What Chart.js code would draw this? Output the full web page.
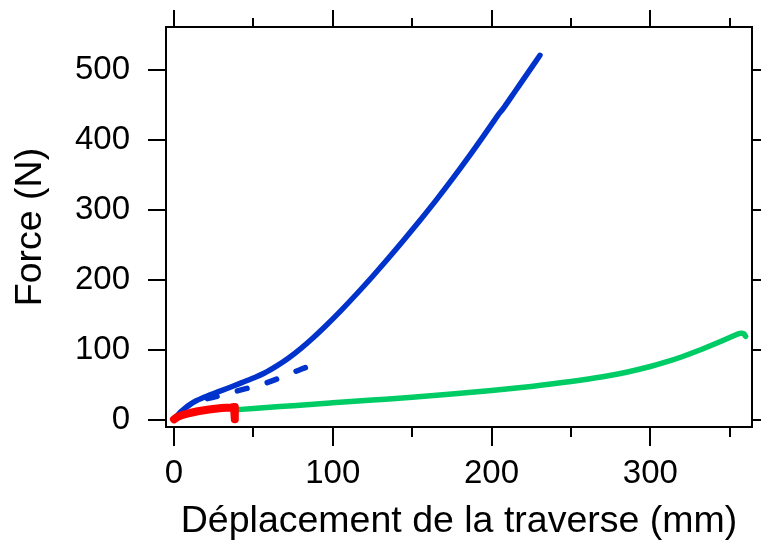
<!DOCTYPE html>
<html><head><meta charset="utf-8">
<script src="https://cdn.jsdelivr.net/npm/chart.js@4/dist/chart.umd.min.js"></script>
<style>html,body{margin:0;padding:0;background:#fff}</style>
</head><body>
<canvas id="c" width="761" height="544" style="width:761px;height:544px;display:block"></canvas>
<script>
// Tick values
const xMajorTicks = [0, 100, 200, 300];
const xMinorTicks = [50, 150, 250, 350];
const yMajorTicks = [0, 100, 200, 300, 400, 500];

// Blue solid series
const blueX = [0, 2, 4, 7, 10, 14, 18, 22.7, 28, 35, 42, 50, 57, 65, 72, 80, 88, 95, 105, 115, 125, 135, 145, 155, 165, 175, 185, 195, 202, 204.5, 206, 208, 215, 222, 230.5];
const blueY = [1, 6, 11, 17, 22, 27.5, 31.5, 36, 40.5, 46.5, 52.7, 60, 67.1, 77.7, 88.3, 102.4, 118.3, 133.3, 156, 180, 205, 231, 257.8, 285.4, 313.8, 343.3, 374, 405.9, 428.7, 437, 441, 447, 470, 493, 521];

// Blue dashed series
const blueDashX = [21, 30, 44, 55, 63, 72, 80, 83.5];
const blueDashY = [30.5, 35.5, 44, 50.5, 57, 65, 72.5, 75.5];

// Red series
const redX = [0, 2, 5, 10, 15, 22, 30, 36, 37.8, 38.2, 38.4];
const redY = [1, 4, 7, 10, 12.5, 15, 17, 18, 18.5, 10, 1];

// Green series
const greenX = [38.5, 50, 75, 100, 125, 150, 175, 200, 225, 250, 270, 285, 300, 310, 320, 330, 342, 350, 355, 357, 359, 360];
const greenY = [14.5, 16.5, 20.5, 24.5, 28.5, 32.5, 37, 42, 48, 55, 61.8, 68.3, 76.4, 82.9, 90.4, 98.9, 110, 117.8, 122.8, 124, 123, 119.5];

const pts = (xs, ys) => xs.map((x, i) => ({x: x, y: ys[i]}));
const FONT = "'Liberation Sans', Arial, Helvetica, sans-serif";

const frameTicks = {
  id: 'frameTicks',
  afterDraw(chart) {
    const ctx = chart.ctx, a = chart.chartArea;
    const xs = chart.scales.x, ys = chart.scales.y;
    ctx.save();
    ctx.strokeStyle = '#000';
    ctx.lineWidth = 2;
    ctx.lineCap = 'butt';
    ctx.strokeRect(a.left, a.top, a.right - a.left, a.bottom - a.top);
    ctx.beginPath();
    xMajorTicks.forEach(v => {
      const p = Math.round(xs.getPixelForValue(v));
      ctx.moveTo(p, a.bottom); ctx.lineTo(p, a.bottom + 19);
      ctx.moveTo(p, a.top); ctx.lineTo(p, a.top - 17);
    });
    xMinorTicks.forEach(v => {
      const p = Math.round(xs.getPixelForValue(v));
      ctx.moveTo(p, a.bottom); ctx.lineTo(p, a.bottom + 10);
      ctx.moveTo(p, a.top); ctx.lineTo(p, a.top - 9);
    });
    yMajorTicks.forEach(v => {
      const p = Math.round(ys.getPixelForValue(v));
      ctx.moveTo(a.left, p); ctx.lineTo(a.left - 18, p);
      ctx.moveTo(a.right, p); ctx.lineTo(a.right + 10, p);
    });
    ctx.stroke();
    ctx.restore();
  }
};

new Chart(document.getElementById('c'), {
  type: 'scatter',
  data: {
    datasets: [
      {data: pts(redX, redY), borderColor: '#ff0000', borderWidth: 8, showLine: true, pointRadius: 0, borderCapStyle: 'round', borderJoinStyle: 'round'},
      {data: pts(blueX, blueY), borderColor: '#0033cc', borderWidth: 5.5, showLine: true, pointRadius: 0, cubicInterpolationMode: 'monotone', borderCapStyle: 'round', borderJoinStyle: 'round'},
      {data: pts(blueDashX, blueDashY), borderColor: '#0033cc', borderWidth: 5.5, showLine: true, pointRadius: 0, borderDash: [10, 21], borderCapStyle: 'round', cubicInterpolationMode: 'monotone'},
      {data: pts(greenX, greenY), borderColor: '#00cc66', borderWidth: 5.5, showLine: true, pointRadius: 0, cubicInterpolationMode: 'monotone', borderCapStyle: 'round', borderJoinStyle: 'round'}
    ]
  },
  options: {
    responsive: false,
    animation: false,
    devicePixelRatio: 1,
    layout: {padding: {top: 27, right: 9, left: 0, bottom: 0}},
    plugins: {legend: {display: false}, tooltip: {enabled: false}},
    scales: {
      x: {
        type: 'linear', position: 'bottom', min: -5.04, max: 364.05,
        afterFit: s => { s.height = 117; s.paddingLeft = 0; s.paddingRight = 0; },
        afterBuildTicks: s => { s.ticks = xMajorTicks.map(v => ({value: v})); },
        grid: {display: false}, border: {display: false},
        ticks: {color: '#000', font: {family: FONT, size: 33}, padding: 19, maxRotation: 0, autoSkip: false},
        title: {display: true, text: 'Déplacement de la traverse (mm)', color: '#000', font: {family: FONT, size: 37.5}, padding: {top: 0, bottom: 0}}
      },
      y: {
        type: 'linear', position: 'left', min: -10, max: 561.43,
        afterFit: s => { s.width = 166; s.paddingTop = 0; s.paddingBottom = 0; },
        afterBuildTicks: s => { s.ticks = yMajorTicks.map(v => ({value: v})); },
        grid: {display: false}, border: {display: false},
        ticks: {color: '#000', font: {family: FONT, size: 33}, padding: 28, autoSkip: false},
        title: {display: true, text: 'Force (N)', color: '#000', font: {family: FONT, size: 37.5}, padding: {top: 8, bottom: 0}}
      }
    }
  },
  plugins: [frameTicks]
});
</script>
</body></html>
